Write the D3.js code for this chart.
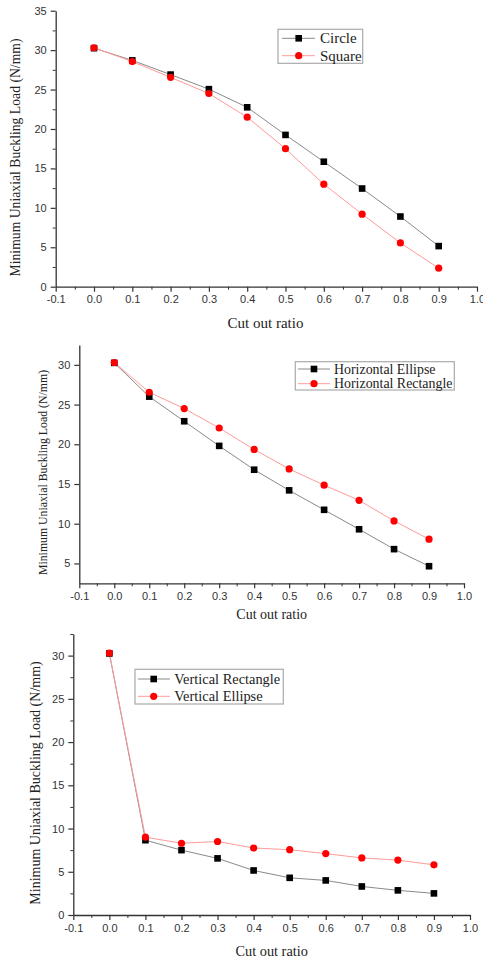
<!DOCTYPE html>
<html>
<head>
<meta charset="utf-8">
<script src="https://cdn.jsdelivr.net/npm/d3@7"></script>
<style>
  html, body { margin: 0; padding: 0; background: #fff; }
  svg { display: block; }
  .tick text { font-family: "Liberation Sans", Arial, sans-serif; fill: #333; }
  .ttl { font-family: "Liberation Serif", "Times New Roman", serif; fill: #222; }
</style>
</head>
<body>
<svg id="chart" width="483" height="960"></svg>
<script>
// cut out ratio (shared x values)
var ratios = [0.0, 0.1, 0.2, 0.3, 0.4, 0.5, 0.6, 0.7, 0.8, 0.9];
var xTicks = [-0.1, 0.0, 0.1, 0.2, 0.3, 0.4, 0.5, 0.6, 0.7, 0.8, 0.9, 1.0];

// panel 1
var circle = [30.25, 28.7, 26.9, 25.05, 22.75, 19.25, 15.85, 12.45, 8.9, 5.15];
var square = [30.3, 28.55, 26.55, 24.5, 21.5, 17.5, 13.0, 9.2, 5.55, 2.35];
// panel 2
var horizEllipse = [30.25, 26.0, 22.9, 19.8, 16.8, 14.2, 11.75, 9.3, 6.8, 4.65];
var horizRect = [30.3, 26.55, 24.5, 22.05, 19.35, 16.9, 14.85, 12.95, 10.35, 8.05];
// panel 3
var vertRect = [30.25, 8.65, 7.5, 6.55, 5.15, 4.3, 4.0, 3.3, 2.85, 2.5];
var vertEllipse = [30.3, 9.0, 8.3, 8.5, 7.75, 7.55, 7.1, 6.6, 6.35, 5.8];

var yTicks1 = [0, 5, 10, 15, 20, 25, 30, 35];
var yTicks2 = [5, 10, 15, 20, 25, 30];
var yTicks3 = [0, 5, 10, 15, 20, 25, 30];

var names1 = ['Circle', 'Square'];
var names2 = ['Horizontal Ellipse', 'Horizontal Rectangle'];
var names3 = ['Vertical Rectangle', 'Vertical Ellipse'];

var yTitle = 'Minimum Uniaxial Buckling Load (N/mm)';
var xTitle = 'Cut out ratio';

var svg = d3.select('#chart');

var panels = [
  { l: 55.7, r: 477, t: 10.7, b: 286.7, yDom: [0, 35], yTicks: yTicks1,
    series: [circle, square], names: names1,
    yt: { x: 15, y: 157.5, fs: 13.7 }, xt: { x: 265.5, y: 322.7, fs: 15 },
    leg: { x0: 278, y0: 29.3, x1: 362.7, y1: 63.3, rows: [38.3, 55.7], l0: 282, l1: 315, m: 298.7, tx: 320, fs: 15 } },
  { l: 79.3, r: 464, t: 345, b: 583.3, yDom: [2.5, 32.5], yTicks: yTicks2,
    series: [horizEllipse, horizRect], names: names2,
    yt: { x: 42.7, y: 472.5, fs: 11.8 }, xt: { x: 271.7, y: 614, fs: 14 },
    leg: { x0: 295.3, y0: 361.7, x1: 454.3, y1: 390, rows: [369, 383.7], l0: 298, l1: 330, m: 314, tx: 334, fs: 13.9 } },
  { l: 73.3, r: 470, t: 634, b: 915, yDom: [0, 32.5], yTicks: yTicks3,
    series: [vertRect, vertEllipse], names: names3,
    yt: { x: 35, y: 783, fs: 14 }, xt: { x: 271.7, y: 951, fs: 14.3 },
    leg: { x0: 135, y0: 669.3, x1: 283.3, y1: 704, rows: [679, 696.3], l0: 138, l1: 170, m: 153.7, tx: 174.3, fs: 14.4 } }
];

var lineCols = ['#8a8a8a', '#ff9a9a'];
var markCols = ['#000', '#ff0000'];

function drawMarker(g, k, cx, cy) {
  if (k === 0) {
    g.append('rect').attr('x', cx - 3.3).attr('y', cy - 3.3)
      .attr('width', 6.6).attr('height', 6.6).attr('fill', markCols[0]);
  } else {
    g.append('circle').attr('cx', cx).attr('cy', cy).attr('r', 3.6).attr('fill', markCols[1]);
  }
}

panels.forEach(function (p) {
  var x = d3.scaleLinear().domain([-0.1, 1.0]).range([p.l, p.r]);
  var y = d3.scaleLinear().domain(p.yDom).range([p.b, p.t]);
  var g = svg.append('g');

  // minor ticks
  var xMinor = d3.range(-0.05, 1.0, 0.1);
  var yMinor = d3.range(p.yDom[0] + 2.5, p.yDom[1] + 0.01, 5).filter(function (v) { return v % 5 !== 0; });
  g.append('g').attr('transform', 'translate(0,' + p.b + ')')
    .call(d3.axisBottom(x).tickValues(xMinor).tickSize(3).tickFormat('').tickSizeOuter(0))
    .call(function (s) { s.select('.domain').remove(); s.selectAll('line').attr('stroke', '#333'); });
  g.append('g').attr('transform', 'translate(' + p.l + ',0)')
    .call(d3.axisLeft(y).tickValues(yMinor).tickSize(3).tickFormat('').tickSizeOuter(0))
    .call(function (s) { s.select('.domain').remove(); s.selectAll('line').attr('stroke', '#333'); });

  // major axes
  var xa = g.append('g').attr('transform', 'translate(0,' + p.b + ')')
    .call(d3.axisBottom(x).tickValues(xTicks).tickSize(5).tickPadding(4).tickSizeOuter(0).tickFormat(d3.format('.1f')));
  var ya = g.append('g').attr('transform', 'translate(' + p.l + ',0)')
    .call(d3.axisLeft(y).tickValues(p.yTicks).tickSize(5).tickPadding(4).tickSizeOuter(0).tickFormat(d3.format('d')));
  [xa, ya].forEach(function (a) {
    a.select('.domain').attr('stroke', '#333').attr('stroke-width', 1.3);
    a.selectAll('.tick line').attr('stroke', '#333').attr('stroke-width', 1.2);
    a.selectAll('.tick text').attr('font-size', 11);
  });
  xa.selectAll('.tick text').text(function (d) { return d3.format('.1f')(d).replace('−', '-'); });

  // series
  p.series.forEach(function (vals, k) {
    var pts = ratios.map(function (r, i) { return [r, vals[i]]; });
    g.append('path').datum(pts)
      .attr('fill', 'none').attr('stroke', lineCols[k]).attr('stroke-width', 1)
      .attr('d', d3.line().x(function (d) { return x(d[0]); }).y(function (d) { return y(d[1]); }));
  });
  p.series.forEach(function (vals, k) {
    ratios.forEach(function (r, i) { drawMarker(g, k, x(r), y(vals[i])); });
  });

  // titles
  g.append('text').attr('class', 'ttl')
    .attr('transform', 'translate(' + p.yt.x + ',' + p.yt.y + ') rotate(-90)')
    .attr('text-anchor', 'middle').attr('dominant-baseline', 'central')
    .attr('font-size', p.yt.fs).text(yTitle);
  g.append('text').attr('class', 'ttl')
    .attr('x', p.xt.x).attr('y', p.xt.y)
    .attr('text-anchor', 'middle').attr('dominant-baseline', 'central')
    .attr('font-size', p.xt.fs).text(xTitle);

  // legend
  var L = p.leg;
  g.append('rect').attr('x', L.x0).attr('y', L.y0)
    .attr('width', L.x1 - L.x0).attr('height', L.y1 - L.y0)
    .attr('fill', '#fff').attr('stroke', '#aaa').attr('stroke-width', 1.2);
  p.names.forEach(function (nm, k) {
    var ry = L.rows[k];
    g.append('line').attr('x1', L.l0).attr('x2', L.l1).attr('y1', ry).attr('y2', ry)
      .attr('stroke', lineCols[k]).attr('stroke-width', 1);
    drawMarker(g, k, L.m, ry);
    g.append('text').attr('class', 'ttl')
      .attr('x', L.tx).attr('y', ry).attr('dominant-baseline', 'central')
      .attr('font-size', L.fs).text(nm);
  });
});
</script>
</body>
</html>
